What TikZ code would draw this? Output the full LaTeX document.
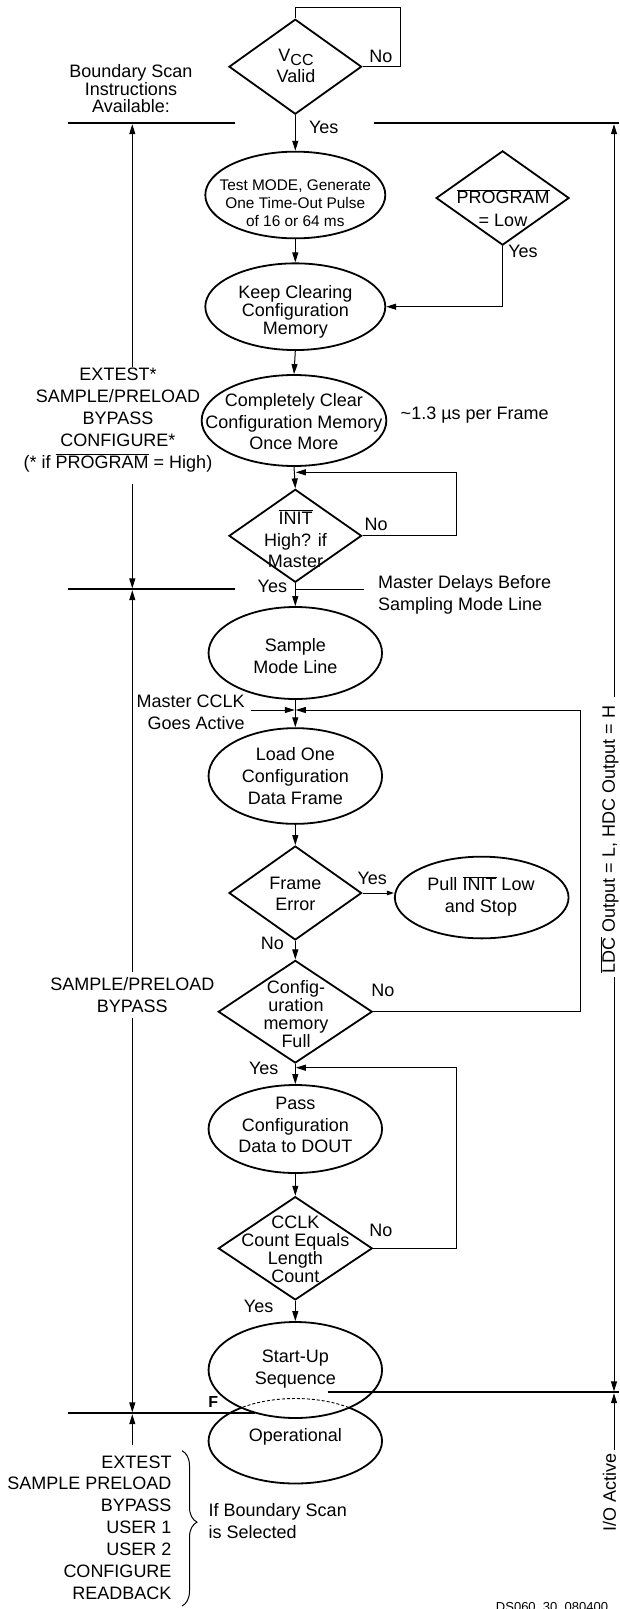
\documentclass[tikz,border=0pt]{standalone}
\usepackage{fontspec}
\setmainfont{Liberation Sans}
\usetikzlibrary{shapes.geometric,arrows.meta,decorations.pathreplacing}
\newcommand{\ovl}[1]{$\overline{\hbox{#1}}$}
\begin{document}
\begin{tikzpicture}[x=1pt,y=-1pt,
  txt/.style={inner sep=0pt, align=center, font=\fontsize{18}{21.7}\selectfont},
  tight/.style={font=\fontsize{18}{17.8}\selectfont},
  ell/.style={ellipse, draw, line width=1.8pt, inner sep=0pt},
  dia/.style={diamond, draw, line width=1.8pt, inner sep=0pt},
  conn/.style={line width=1pt},
  arr/.style={line width=1pt, -{Triangle[length=10pt,width=6pt]}},
  sarr/.style={line width=1pt, -{Triangle[length=7pt,width=4.5pt]}},
  bound/.style={line width=1.8pt},
]
\useasboundingbox (0,0) rectangle (619,1609);

% ---------- shapes ----------
\node[dia, minimum width=132.6pt, minimum height=95pt] (vcc) at (295.3,66.7) {};
\node[ell, minimum width=180pt, minimum height=86.7pt] (test) at (295.3,195) {};
\node[dia, minimum width=133pt, minimum height=94.3pt] (prog) at (502.6,198) {};
\node[ell, minimum width=180pt, minimum height=86.7pt] (keep) at (295.3,306.7) {};
\node[ell, minimum width=184.7pt, minimum height=91pt] (clear) at (294,420.5) {};
\node[dia, minimum width=132.6pt, minimum height=93pt] (init) at (295.3,535.8) {};
\node[ell, minimum width=173.5pt, minimum height=92pt] (sample) at (295.3,653) {};
\node[ell, minimum width=173.5pt, minimum height=95.7pt] (load) at (295.3,776) {};
\node[dia, minimum width=132.6pt, minimum height=94pt] (frame) at (295.3,893) {};
\node[ell, minimum width=173.7pt, minimum height=81.7pt] (pull) at (481.7,897.5) {};
\node[dia, minimum width=154pt, minimum height=102.7pt] (full) at (295.3,1011.7) {};
\node[ell, minimum width=173.5pt, minimum height=88pt] (pass) at (295.3,1129) {};
\node[dia, minimum width=154pt, minimum height=103.3pt] (cclk) at (295.3,1248.3) {};

\node[ell, minimum width=173.5pt, minimum height=85pt] (oper) at (295.3,1441) {};
\fill[white] (295.3,1370) ellipse [x radius=86.75, y radius=48];
\begin{scope}
  \clip (295.3,1370) ellipse [x radius=86.75, y radius=48];
  \draw[line width=0.9pt, dash pattern=on 3pt off 2pt] (295.3,1441) ellipse [x radius=86.75, y radius=42.5];
\end{scope}
\node[ell, minimum width=173.5pt, minimum height=96pt] (start) at (295.3,1370) {};

% ---------- texts in shapes ----------
\node[txt] (vcct) at (296,66) {V\raisebox{-4pt}{\fontsize{16}{16}\selectfont CC}\\Valid};
\node[txt, font=\fontsize{15.4}{18.3}\selectfont] (testt) at (295.3,203.3) {Test MODE, Generate\\One Time-Out Pulse\\of 16 or 64 ms};
\node[txt, font=\fontsize{18}{22.6}\selectfont] (progt) at (503,208) {\ovl{PROGRAM}\\= Low};
\node[txt, tight] (keept) at (295.3,312) {Keep Clearing\\Configuration\\Memory};
\node[txt] (cleart) at (294,421.7) {Completely Clear\\Configuration Memory\\Once More};
\node[txt] (initt) at (295.5,539) {\ovl{INIT}\\High? if\\Master};
\node[txt] (samplet) at (295.3,656) {Sample\\Mode Line};
\node[txt] (loadt) at (295.3,776) {Load One\\Configuration\\Data Frame};
\node[txt] (framet) at (295.3,894) {Frame\\Error};
\node[txt] (pullt) at (481,896) {Pull \ovl{INIT} Low\\and Stop};
\node[txt, font=\fontsize{18}{18}\selectfont] (fullt) at (296,1014.5) {Config-\\uration\\memory\\Full};
\node[txt] (passt) at (295.3,1125) {Pass\\Configuration\\Data to DOUT};
\node[txt, font=\fontsize{18}{18}\selectfont] (cclkt) at (295.3,1249) {CCLK\\Count Equals\\Length\\Count};
\node[txt] (startt) at (295.3,1369) {Start-Up\\Sequence};
\node[txt] (opert) at (295.3,1436.7) {Operational};

% ---------- branch labels ----------
\node[txt] (vccno) at (381,56.7) {No};
\node[txt] (vccyes) at (323.7,127.7) {Yes};
\node[txt] (progyes) at (523,251) {Yes};
\node[txt] (initno) at (376.2,524.3) {No};
\node[txt] (inityes) at (272.4,586) {Yes};
\node[txt] (frameyes) at (372.3,878.3) {Yes};
\node[txt] (frameno) at (272.4,943.3) {No};
\node[txt] (fullno) at (383,990.7) {No};
\node[txt] (fullyes) at (263.7,1068.3) {Yes};
\node[txt] (cclkno) at (381,1230) {No};
\node[txt] (cclkyes) at (258.6,1306) {Yes};
\node[txt, font=\fontsize{16}{16}\bfseries] (Ft) at (213.2,1401.7) {F};

% ---------- side texts ----------
\node[txt] (usf) at (474.7,415) {\textasciitilde1.3 µs per Frame};
\node[txt, align=left, anchor=west, font=\fontsize{18}{22}\selectfont] (mdt) at (378,595) {Master Delays Before\\Sampling Mode Line};
\node[txt, align=right, anchor=east] (mct) at (244.8,712.5) {Master CCLK\\Goes Active};
\node[txt, font=\fontsize{18}{17.5}\selectfont] (bst) at (131,89) {Boundary Scan\\Instructions\\Available:};
\node[txt, font=\fontsize{18}{22}\selectfont] (ext) at (118,420) {EXTEST*\\SAMPLE/PRELOAD\\BYPASS\\CONFIGURE*\\(* if \ovl{PROGRAM} = High)};
\node[txt] (spt) at (132.3,995) {SAMPLE/PRELOAD\\BYPASS};
\node[txt, align=right, anchor=east, font=\fontsize{18}{21.9}\selectfont] (lst) at (171.7,1527.5) {EXTEST\\SAMPLE PRELOAD\\BYPASS\\USER 1\\USER 2\\CONFIGURE\\READBACK};
\node[txt, align=left, anchor=west, font=\fontsize{18}{22.3}\selectfont] (ift) at (208.5,1521) {If Boundary Scan\\is Selected};
\node[txt, rotate=90] (ldct) at (609.5,839.5) {\ovl{LDC} Output = L, HDC Output = H};
\node[txt, rotate=90] (iot) at (609.5,1492) {I/O Active};
\node[inner sep=0pt, anchor=base, font=\fontsize{13}{13}\selectfont] (ds) at (552,1611) {DS060\_30\_080400};

% ---------- main connectors ----------
\coordinate (vccloop) at (400.7,7.3);
\draw[conn] (vcc.east) -| (vccloop) -| (vcc.north);
\draw[arr] (vcc.south) -- (test.north);
\draw[arr] (test.south) -- (keep.north);
\draw[arr] (prog.south) |- (keep.east);
\draw[arr] (keep.south) -- (clear.north);
\draw[arr] (clear.south) -- (init.north);
\coordinate (initloop) at (456,472.3);
\coordinate (initin) at (295.8,472.3);
\draw[arr] (init.east) -| (initloop) -- (initin);
\draw[arr] (init.south) -- (sample.north);
\coordinate (md1) at (295.3,589.3);
\coordinate (md2) at (364,589.3);
\draw[conn] (md1) -- (md2);
\draw[arr] (sample.south) -- (load.north);
\coordinate (mc) at (250.7,710);
\coordinate (mcin) at (294.8,710);
\draw[arr] (mc) -- (mcin);
\coordinate (fullloop) at (580.3,710);
\coordinate (fullin) at (295.8,710);
\draw[arr] (full.east) -| (fullloop) -- (fullin);
\draw[arr] (load.south) -- (frame.north);
\draw[sarr] (frame.east) -- (frame.east -| pull.west);
\draw[arr] (frame.south) -- (full.north);
\draw[arr] (full.south) -- (pass.north);
\coordinate (cclkloop) at (456,1067.7);
\coordinate (cclkin) at (295.8,1067.7);
\draw[arr] (cclk.east) -| (cclkloop) -- (cclkin);
\draw[arr] (pass.south) -- (cclk.north);
\draw[arr] (cclk.south) -- (start.north);

% ---------- left boundary-scan scale ----------
\coordinate (h1a) at (68,123.3);   \coordinate (h1b) at (235,123.3);
\coordinate (h2a) at (68,589.3);   \coordinate (h2b) at (235,589.3);
\coordinate (h3a) at (68,1413.3);  \coordinate (h3b) at (254.6,1413.3);
\draw[bound] (h1a) -- (h1b);
\draw[bound] (h2a) -- (h2b);
\draw[bound] (h3a) -- (h3b);
\coordinate (l1t) at (132.3,124.2);  \coordinate (l1b) at (132.3,366.7);
\coordinate (l2t) at (132.3,484);    \coordinate (l2b) at (132.3,588.4);
\coordinate (l3t) at (132.3,590.2);  \coordinate (l3b) at (132.3,971.7);
\coordinate (l4t) at (132.3,1018.3); \coordinate (l4b) at (132.3,1412.4);
\coordinate (l5t) at (132.3,1414.2); \coordinate (l5b) at (132.3,1445);
\draw[arr] (l1b) -- (l1t);
\draw[arr] (l2t) -- (l2b);
\draw[arr] (l3b) -- (l3t);
\draw[arr] (l4t) -- (l4b);
\draw[arr] (l5b) -- (l5t);

% ---------- right output scale ----------
\coordinate (r1a) at (373.5,123.3); \coordinate (r1b) at (619,123.3);
\coordinate (r2a) at (327.7,1392.3); \coordinate (r2b) at (619,1392.3);
\draw[bound] (r1a) -- (r1b);
\draw[bound] (r2a) -- (r2b);
\coordinate (v1t) at (614,124.2);  \coordinate (v1b) at (614,697);
\coordinate (v2t) at (614,977);    \coordinate (v2b) at (614,1391.4);
\coordinate (v3t) at (614,1393.2); \coordinate (v3b) at (614,1450);
\draw[arr] (v1b) -- (v1t);
\draw[arr] (v2t) -- (v2b);
\draw[arr] (v3b) -- (v3t);

% ---------- brace ----------
\coordinate (bra) at (182,1450.7);
\coordinate (brb) at (182,1606);
\draw[line width=1pt, decorate, decoration={brace, amplitude=15pt, aspect=0.46}] (bra) -- (brb);
\end{tikzpicture}
\end{document}
